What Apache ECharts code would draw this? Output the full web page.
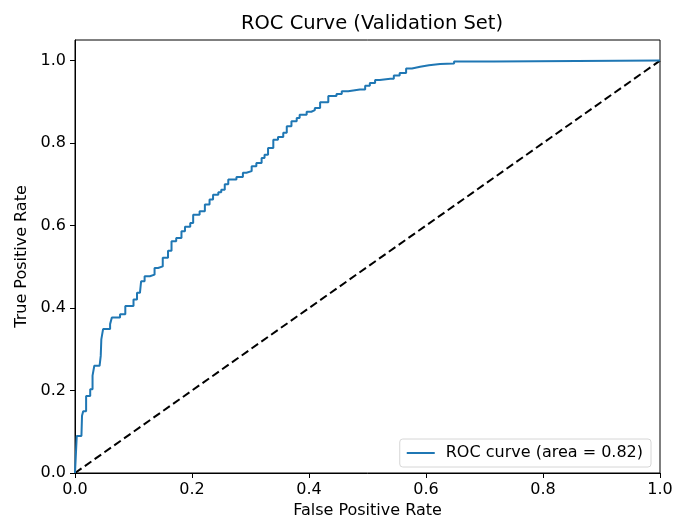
<!DOCTYPE html>
<html>
<head>
<meta charset="utf-8">
<script src="https://cdn.jsdelivr.net/npm/echarts@6/dist/echarts.min.js"></script>
<style>
  html, body { margin: 0; padding: 0; background: #fff; }
  #chart { width: 686px; height: 524px; }
</style>
</head>
<body>
<div id="chart"></div>
<script>
// ROC curve points
const fpr = [0, 0.003, 0.011, 0.012, 0.014, 0.019, 0.026, 0.030, 0.033, 0.042, 0.044, 0.045, 0.048,
  0.060, 0.063, 0.077, 0.086, 0.100, 0.106, 0.111, 0.113, 0.119, 0.128, 0.136, 0.142, 0.150,
  0.159, 0.165, 0.173, 0.182, 0.188, 0.197, 0.202, 0.213, 0.222, 0.230, 0.236, 0.245, 0.250,
  0.256, 0.262, 0.276, 0.287, 0.293, 0.302, 0.310, 0.319, 0.324, 0.330, 0.339, 0.347, 0.356,
  0.362, 0.370, 0.379, 0.384, 0.396, 0.404, 0.410, 0.419, 0.433, 0.447, 0.456, 0.467, 0.487,
  0.496, 0.504, 0.513, 0.521, 0.539, 0.545, 0.555, 0.566, 0.576, 0.590, 0.605, 0.624, 0.648,
  0.716, 1.0];
const tpr = [0, 0.09, 0.09, 0.139, 0.15, 0.187, 0.203, 0.236, 0.26, 0.264, 0.284, 0.324, 0.349,
  0.361, 0.377, 0.385, 0.405, 0.421, 0.437, 0.441, 0.465, 0.477, 0.481, 0.497, 0.501, 0.522,
  0.539, 0.562, 0.570, 0.586, 0.597, 0.606, 0.626, 0.635, 0.651, 0.663, 0.675, 0.681, 0.687,
  0.700, 0.712, 0.718, 0.728, 0.732, 0.744, 0.752, 0.764, 0.772, 0.788, 0.808, 0.815, 0.825,
  0.841, 0.853, 0.861, 0.869, 0.876, 0.880, 0.885, 0.899, 0.914, 0.919, 0.926, 0.930, 0.930,
  0.939, 0.946, 0.953, 0.956, 0.956, 0.964, 0.970, 0.981, 0.985, 0.989, 0.992, 0.993, 0.998,
  1.0, 1.0];
const diagonal = [[0, 0], [1, 1]];
const tickValues = [0, 0.2, 0.4, 0.6, 0.8, 1.0];
const rocName = "ROC curve (area = 0.82)";

const font = "DejaVu Sans";
const myChart = echarts.init(document.getElementById("chart"));

const option = {
  animation: false,
  title: {
    text: "ROC Curve (Validation Set)",
    left: 367,
    top: 9,
    textAlign: "center",
    textStyle: { fontFamily: font, fontSize: 19.5, fontWeight: "normal", color: "#000" },
  },
  grid: {
    left: 75,
    right: 26,
    top: 40,
    bottom: 50,
    show: true,
    borderColor: "#000",
    borderWidth: 1,
  },
  legend: {
    data: [{ name: rocName, icon: "rect" }],
    right: 35,
    bottom: 57,
    orient: "vertical",
    itemWidth: 28,
    itemHeight: 2,
    padding: [6, 8, 6, 7],
    borderColor: "#d6d6d6",
    borderWidth: 1,
    borderRadius: 3,
    backgroundColor: "rgba(255,255,255,0.8)",
    textStyle: { fontFamily: font, fontSize: 16, color: "#000", padding: [0, 0, 0, 6], lineHeight: 16 },
  },
  xAxis: {
    type: "value",
    min: 0,
    max: 1,
    interval: 0.2,
    name: "False Positive Rate",
    nameLocation: "middle",
    nameGap: 30,
    nameTextStyle: { fontFamily: font, fontSize: 16, color: "#000" },
    axisLine: { lineStyle: { color: "#000", width: 1 } },
    axisTick: { show: true, length: 5, lineStyle: { color: "#000" } },
    axisLabel: {
      fontFamily: font, fontSize: 16, color: "#000", margin: 9,
      formatter: (v) => v.toFixed(1),
    },
    splitLine: { show: false },
  },
  yAxis: {
    type: "value",
    min: 0,
    max: 1.05,
    name: "True Positive Rate",
    nameLocation: "middle",
    nameGap: 45,
    nameTextStyle: { fontFamily: font, fontSize: 16, color: "#000" },
    axisLine: { show: true, lineStyle: { color: "#000", width: 1 } },
    axisTick: { show: true, length: 5, lineStyle: { color: "#000" }, customValues: tickValues },
    axisLabel: {
      fontFamily: font, fontSize: 16, color: "#000", margin: 9,
      customValues: tickValues,
      formatter: (v) => v.toFixed(1),
    },
    splitLine: { show: false },
  },
  series: [
    {
      name: rocName,
      type: "line",
      data: fpr.map((x, i) => [x, tpr[i]]),
      step: "end",
      symbol: "none",
      lineStyle: { color: "#1f77b4", width: 2 },
      itemStyle: { color: "#1f77b4" },
      z: 3,
    },
    {
      name: "chance",
      type: "line",
      data: diagonal,
      symbol: "none",
      lineStyle: { color: "#000", width: 2, type: [8, 4] },
      z: 2,
    },
  ],
};

myChart.setOption(option);
</script>
</body>
</html>
